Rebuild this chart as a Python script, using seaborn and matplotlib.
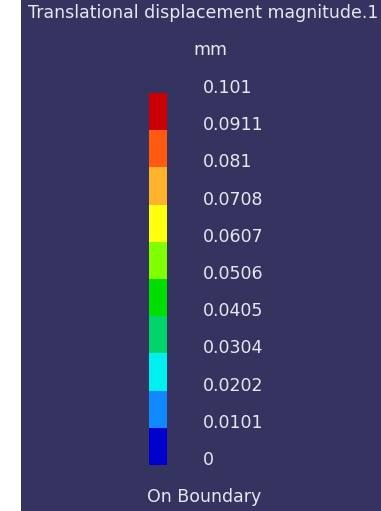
import numpy as np
import pandas as pd
import matplotlib
matplotlib.use('Agg')
import matplotlib.pyplot as plt
from matplotlib.colors import ListedColormap
import seaborn as sns

# colour bands from bottom (0) to top (0.101)
levels = [0, 0.0101, 0.0202, 0.0304, 0.0405, 0.0506, 0.0607, 0.0708, 0.081, 0.0911, 0.101]
level_labels = ['0', '0.0101', '0.0202', '0.0304', '0.0405', '0.0506',
                '0.0607', '0.0708', '0.081', '0.0911', '0.101']
band_colors = ['#0000cc', '#1088ff', '#00f0f0', '#00d46a', '#00dd00',
               '#80ff00', '#ffff10', '#ffb22b', '#ff5a0f', '#cc0000']
title = 'Translational displacement magnitude.1'
unit = 'mm'
footer = 'On Boundary'

bg = '#35335f'
fg = '#e8e8f0'
W, H = 381, 511

sns.set_style('white')
plt.rcParams['font.family'] = ['DejaVu Sans']

fig = plt.figure(figsize=(W / 100, H / 100), dpi=100, facecolor='white')

# dark panel behind everything, white strip on the left
bg_ax = fig.add_axes([21 / W, 0, 1 - 21 / W, 1])
bg_ax.set_facecolor(bg)
bg_ax.set_xticks([])
bg_ax.set_yticks([])
for s in bg_ax.spines.values():
    s.set_visible(False)

# one column of band midpoints, top row = highest band
mids = [(levels[i] + levels[i + 1]) / 2 for i in range(len(levels) - 1)]
df = pd.DataFrame({'v': mids[::-1]})

ax = fig.add_axes([149 / W, 1 - 465 / H, 18 / W, 372 / H], zorder=3)
ax.patch.set_alpha(0)
sns.heatmap(df, ax=ax, cmap=ListedColormap(band_colors), vmin=levels[0], vmax=levels[-1],
            cbar=False, xticklabels=False, linewidths=0)
ax.set_xticks([])
ax.set_yticks(np.arange(len(levels)))
ax.set_yticklabels(level_labels[::-1], rotation=0, va='baseline', ha='left',
                   color=fg, fontsize=12.5)
ax.yaxis.tick_right()
ax.tick_params(axis='y', length=0, pad=26)
ax.set_ylabel('')
for s in ax.spines.values():
    s.set_visible(False)

bg_ax.text(203 / W, 1 - 13 / H, title, transform=fig.transFigure, ha='center', va='center',
           color=fg, fontsize=12.5)
bg_ax.text(210 / W, 1 - 50 / H, unit, transform=fig.transFigure, ha='center', va='center',
           color=fg, fontsize=12.5)
bg_ax.text(204 / W, 1 - 497 / H, footer, transform=fig.transFigure, ha='center', va='center',
           color=fg, fontsize=12.5)

fig.savefig('out.png', dpi=100, facecolor='white')
